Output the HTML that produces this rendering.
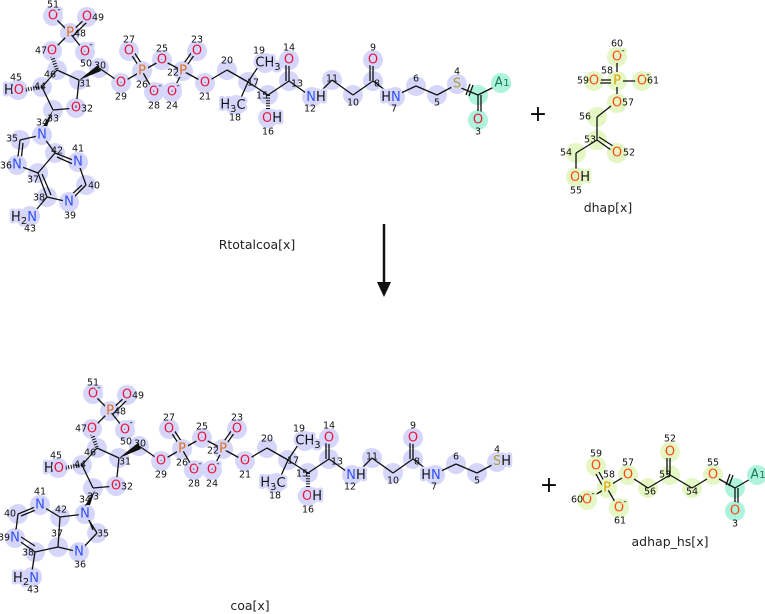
<!DOCTYPE html>
<html><head><meta charset="utf-8"><style>
body{margin:0;background:#fff}
svg{display:block}
.a{font-family:"DejaVu Sans","Liberation Sans",sans-serif;font-size:13px;text-anchor:middle;dominant-baseline:central;stroke:#d6d6fa;stroke-width:5;paint-order:stroke;stroke-linejoin:round}
.ag{stroke:#e5f7c4}
.aq{stroke:#aef3dc}
.n{font-family:"DejaVu Sans","Liberation Sans",sans-serif;font-size:9.5px;text-anchor:middle;dominant-baseline:central;fill:#111}
.L{font-family:"DejaVu Sans","Liberation Sans",sans-serif;font-size:12.5px;text-anchor:middle;fill:#222}
.b{stroke:#111;stroke-width:1.3;fill:none}
.h{stroke:#111;stroke-width:4;stroke-dasharray:1 1.6;fill:none}
.cl circle{fill:#d6d6fa}
.cg circle{fill:#e5f7c4}
.O{fill:#e8173a}.N{fill:#3050f8}.P{fill:#e07020}.S{fill:#a8a040}.K{fill:#111}
.Or{fill:#ff4a10}.Pr{fill:#e0a000}
</style></head><body>
<svg width="765" height="614" viewBox="0 0 765 614" xmlns="http://www.w3.org/2000/svg">
<defs>
<g id="coa">
<g class="cl">
<circle cx="53" cy="16" r="10"/><circle cx="87" cy="17" r="10"/><circle cx="70" cy="33" r="10"/><circle cx="85" cy="52" r="10"/><circle cx="52" cy="51" r="10"/><circle cx="57" cy="70" r="10"/><circle cx="79" cy="80" r="10"/><circle cx="99" cy="68" r="10"/><circle cx="121" cy="83" r="10"/><circle cx="142" cy="71" r="10"/><circle cx="129" cy="51" r="10"/><circle cx="154" cy="92" r="10"/><circle cx="162" cy="60" r="10"/><circle cx="183" cy="71" r="10"/><circle cx="197" cy="51" r="10"/><circle cx="172" cy="92" r="10"/><circle cx="205" cy="83" r="10"/><circle cx="227" cy="70" r="10"/><circle cx="248" cy="82" r="10"/><circle cx="236" cy="105" r="10"/><circle cx="265" cy="63" r="10"/><circle cx="268" cy="95" r="10"/><circle cx="268" cy="118" r="10"/><circle cx="289" cy="81" r="10"/><circle cx="289" cy="60" r="10"/><circle cx="312" cy="97" r="10"/><circle cx="332" cy="80" r="10"/><circle cx="353" cy="95" r="10"/><circle cx="373" cy="81" r="10"/><circle cx="373" cy="60" r="10"/><circle cx="395" cy="97" r="10"/><circle cx="416" cy="86" r="10"/><circle cx="437" cy="95" r="10"/><circle cx="457" cy="84" r="10"/><circle cx="42" cy="87" r="10"/><circle cx="18" cy="90" r="10"/><circle cx="53" cy="110" r="10"/><circle cx="76" cy="108" r="10"/>
</g>
<path class="b" d="M53 16L70 33M70 33L87 17M73 36L89 20M70 33L85 52M70 33L52 51M57 70L79 80M57 70L42 87M42 87L53 110M53 110L76 108M76 108L79 80M99 68L121 83M121 83L142 71M142 71L129 51M145 69L132 49M142 71L154 92M142 71L162 60M162 60L183 71M183 71L197 51M180 69L194 49M183 71L172 92M183 71L205 83M205 83L227 70M227 70L248 82M248 82L240 100M248 82L258 67M248 82L268 95M268 95L289 81M289 81L289 64M286 81L286 64M289 81L306 93M318 94L332 80M332 80L353 95M353 95L373 81M373 81L373 64M370 81L370 64M373 81L389 93M401 93L416 86M416 86L437 95M437 95L452 87"/>
<path class="h" d="M52 56L57 70M42 87L24 90M268 95L268 112"/>
<polygon points="79,80 98,65 101,71" fill="#111"/>
<g class="a">
<text x="53" y="16" class="O">O</text><text x="59" y="10" class="K" style="font-size:9px">-</text>
<text x="87" y="17" class="O">O</text><text x="70" y="33" class="P">P</text>
<text x="85" y="52" class="O">O</text><text x="91" y="45" class="K" style="font-size:9px">-</text>
<text x="52" y="51" class="O">O</text>
<text x="121" y="83" class="O">O</text><text x="142" y="71" class="P">P</text><text x="129" y="51" class="O">O</text>
<text x="154" y="92" class="O">O</text><text x="160" y="86" class="K" style="font-size:9px">-</text>
<text x="162" y="60" class="O">O</text><text x="183" y="71" class="P">P</text><text x="197" y="51" class="O">O</text>
<text x="172" y="92" class="O">O</text><text x="178" y="86" class="K" style="font-size:9px">-</text>
<text x="205" y="83" class="O">O</text>
<text x="233" y="105" class="K">H<tspan dy="4" style="font-size:10px">3</tspan><tspan dy="-4">C</tspan></text>
<text x="268" y="63" class="K">CH<tspan dy="4" style="font-size:10px">3</tspan></text>
<text x="272" y="118"><tspan class="O">O</tspan><tspan class="K">H</tspan></text>
<text x="289" y="60" class="O">O</text>
<text x="316" y="97"><tspan class="N">N</tspan><tspan class="K">H</tspan></text>
<text x="373" y="60" class="O">O</text>
<text x="391" y="97"><tspan class="K">H</tspan><tspan class="N">N</tspan></text>
<text x="14" y="90"><tspan class="K">H</tspan><tspan class="O">O</tspan></text>
<text x="76" y="108" class="O">O</text>
</g>
<g class="n">
<text x="53" y="5">51</text><text x="98" y="18">49</text><text x="80" y="34">48</text><text x="86" y="64">50</text><text x="41" y="51">47</text><text x="50" y="75">46</text><text x="85" y="84">31</text><text x="100" y="66">30</text><text x="121" y="97">29</text><text x="142" y="85">26</text><text x="129" y="40">27</text><text x="154" y="106">28</text><text x="162" y="49">25</text><text x="173" y="73">22</text><text x="197" y="40">23</text><text x="172" y="106">24</text><text x="205" y="97">21</text><text x="227" y="61">20</text><text x="253" y="83">17</text><text x="235" y="118">18</text><text x="259" y="51">19</text><text x="289" y="48">14</text><text x="297" y="84">13</text><text x="262" y="96">15</text><text x="268" y="132">16</text><text x="310" y="109">12</text><text x="332" y="79">11</text><text x="353" y="103">10</text><text x="377" y="84">8</text><text x="373" y="48">9</text><text x="394" y="109">7</text><text x="416" y="79">6</text><text x="437" y="103">5</text><text x="457" y="72">4</text><text x="16" y="78">45</text><text x="40" y="87">44</text><text x="53" y="119">33</text><text x="87" y="109">32</text>
</g>
</g>
</defs>

<use href="#coa"/>
<g class="cl"><circle cx="42" cy="135" r="10"/><circle cx="20" cy="140" r="10"/><circle cx="17" cy="165" r="10"/><circle cx="38" cy="173" r="10"/><circle cx="55" cy="153" r="10"/><circle cx="78" cy="162" r="10"/><circle cx="86" cy="185" r="10"/><circle cx="69" cy="202" r="10"/><circle cx="47" cy="197" r="10"/><circle cx="30" cy="216" r="10"/></g>
<g style="fill:#aef3dc"><circle cx="478" cy="95" r="10"/><circle cx="501" cy="83" r="10"/><circle cx="478" cy="120" r="10"/></g>
<path class="b" d="M42 135L20 140M20 140L17 165M23 143L21 161M17 165L38 173M38 173L55 153M55 153L42 135M55 153L78 162M57 157L75 165M78 162L86 185M86 185L69 202M82 185L68 198M69 202L47 197M47 197L38 173M51 195L42 174M47 197L36 210M461 88L478 95M478 95L496 86M478 95L478 114M481 95L481 114M466 95L470 84M469 96L473 85"/>
<polygon points="53,110 40,131 45,132" fill="#111"/>
<g class="a">
<text x="42" y="135" class="N">N</text><text x="17" y="165" class="N">N</text><text x="78" y="162" class="N">N</text><text x="69" y="202" class="N">N</text>
<text x="24" y="217"><tspan class="K">H</tspan><tspan class="K" dy="4" style="font-size:10px">2</tspan><tspan class="N" dy="-4">N</tspan></text>
<text x="457" y="84" class="S">S</text></g>
<g class="a aq"><text x="502" y="83" style="fill:#1a7a5a">A<tspan style="font-size:10px">1</tspan></text><text x="478" y="120" class="O">O</text>
</g>
<g class="n"><text x="42" y="123">34</text><text x="12" y="139">35</text><text x="6" y="166">36</text><text x="33" y="180">37</text><text x="57" y="151">42</text><text x="78" y="149">41</text><text x="94" y="186">40</text><text x="70" y="216">39</text><text x="39" y="198">38</text><text x="30" y="229">43</text><text x="478" y="132">3</text></g>
<text x="257" y="249" class="L">Rtotalcoa[x]</text>

<text x="538" y="121" style="font-family:'DejaVu Sans',sans-serif;font-size:22px;text-anchor:middle">+</text>
<g class="cg"><circle cx="617" cy="57" r="10"/><circle cx="617" cy="81" r="10"/><circle cx="594" cy="81" r="10"/><circle cx="642" cy="81" r="10"/><circle cx="617" cy="103" r="10"/><circle cx="597" cy="117" r="10"/><circle cx="597" cy="140" r="10"/><circle cx="617" cy="153" r="10"/><circle cx="576" cy="153" r="10"/><circle cx="576" cy="177" r="10"/></g>
<path class="b" d="M617 63L617 75M600 80L611 80M600 83L611 83M623 81L636 81M617 87L617 97M611 106L597 117M597 117L597 140M597 140L611 150M599 137L613 146M597 140L576 153M576 153L576 170"/>
<g class="a ag"><text x="617" y="57" class="Or">O</text><text x="623" y="51" class="K" style="font-size:9px">-</text><text x="617" y="81" class="Pr">P</text><text x="594" y="81" class="Or">O</text><text x="642" y="81" class="Or">O</text><text x="648" y="75" class="K" style="font-size:9px">-</text><text x="617" y="103" class="Or">O</text><text x="617" y="153" class="Or">O</text><text x="580" y="177"><tspan class="Or">O</tspan><tspan class="K">H</tspan></text></g>
<g class="n"><text x="617" y="44">60</text><text x="607" y="71">58</text><text x="583" y="81">59</text><text x="653" y="81">61</text><text x="628" y="103">57</text><text x="585" y="117">56</text><text x="590" y="140">53</text><text x="629" y="153">52</text><text x="566" y="153">54</text><text x="576" y="191">55</text></g>
<text x="608" y="212" class="L">dhap[x]</text>

<line x1="384" y1="224" x2="384" y2="285" stroke="#111" stroke-width="2.5"/>
<polygon points="377,282 391,282 384,297" fill="#111"/>

<use href="#coa" transform="translate(40,378)"/>
<g class="cl"><circle cx="85" cy="514" r="10"/><circle cx="97" cy="533" r="10"/><circle cx="79" cy="552" r="10"/><circle cx="58" cy="547" r="10"/><circle cx="60" cy="517" r="10"/><circle cx="40" cy="505" r="10"/><circle cx="18" cy="514" r="10"/><circle cx="15" cy="538" r="10"/><circle cx="35" cy="552" r="10"/><circle cx="32" cy="577" r="10"/></g>
<path class="b" d="M85 514L97 533M89 520L93 530M97 533L79 552M79 552L58 547M58 547L60 517M60 517L85 514M60 517L40 505M40 505L18 514M38 509L21 516M18 514L15 538M15 538L35 552M18 535L35 546M35 552L58 547M35 552L32 571"/>
<polygon points="95,490 82,510 88,511" fill="#111"/>
<g class="a">
<text x="85" y="514" class="N">N</text><text x="79" y="552" class="N">N</text><text x="40" y="505" class="N">N</text><text x="15" y="538" class="N">N</text>
<text x="26" y="578"><tspan class="K">H</tspan><tspan class="K" dy="4" style="font-size:10px">2</tspan><tspan class="N" dy="-4">N</tspan></text>
<text x="502" y="461"><tspan class="S">S</tspan><tspan class="K">H</tspan></text>
</g>
<g class="n"><text x="85" y="500">34</text><text x="103" y="534">35</text><text x="80" y="565">36</text><text x="57" y="534">37</text><text x="61" y="510">42</text><text x="40" y="492">41</text><text x="10" y="514">40</text><text x="4" y="538">39</text><text x="28" y="553">38</text><text x="33" y="590">43</text></g>
<text x="250" y="610" class="L">coa[x]</text>

<text x="549" y="492" style="font-family:'DejaVu Sans',sans-serif;font-size:22px;text-anchor:middle">+</text>
<g class="cg"><circle cx="596" cy="466" r="10"/><circle cx="607" cy="488" r="10"/><circle cx="587" cy="500" r="10"/><circle cx="619" cy="508" r="10"/><circle cx="628" cy="475" r="10"/><circle cx="648" cy="488" r="10"/><circle cx="670" cy="475" r="10"/><circle cx="670" cy="452" r="10"/><circle cx="692" cy="488" r="10"/><circle cx="713" cy="475" r="10"/></g>
<g style="fill:#aef3dc"><circle cx="735" cy="488" r="10"/><circle cx="757" cy="475" r="10"/><circle cx="735" cy="511" r="10"/></g>
<path class="b" d="M599 472L605 483M596 474L602 485M607 488L593 496M607 488L615 502M612 484L622 478M634 479L648 488M648 488L670 475M670 475L670 458M667 475L667 458M670 475L692 488M692 488L707 479M719 479L735 488M735 488L752 478M735 488L735 505M738 488L738 505M726 485L730 474M729 486L733 475"/>
<g class="a ag"><text x="596" y="466" class="Or">O</text><text x="607" y="488" class="Pr">P</text><text x="587" y="500" class="Or">O</text><text x="593" y="494" class="K" style="font-size:9px">-</text><text x="619" y="508" class="Or">O</text><text x="625" y="502" class="K" style="font-size:9px">-</text><text x="628" y="475" class="Or">O</text><text x="670" y="452" class="Or">O</text><text x="713" y="475" class="Or">O</text></g>
<g class="a aq"><text x="758" y="475" style="fill:#1a7a5a">A<tspan style="font-size:10px">1</tspan></text><text x="735" y="511" class="Or">O</text></g>
<g class="n"><text x="596" y="454">59</text><text x="609" y="475">58</text><text x="577" y="500">60</text><text x="620" y="521">61</text><text x="628" y="463">57</text><text x="650" y="492">56</text><text x="665" y="475">53</text><text x="670" y="439">52</text><text x="692" y="492">54</text><text x="713" y="463">55</text><text x="735" y="524">3</text></g>
<text x="670" y="546" class="L">adhap_hs[x]</text>
</svg>
</body></html>
